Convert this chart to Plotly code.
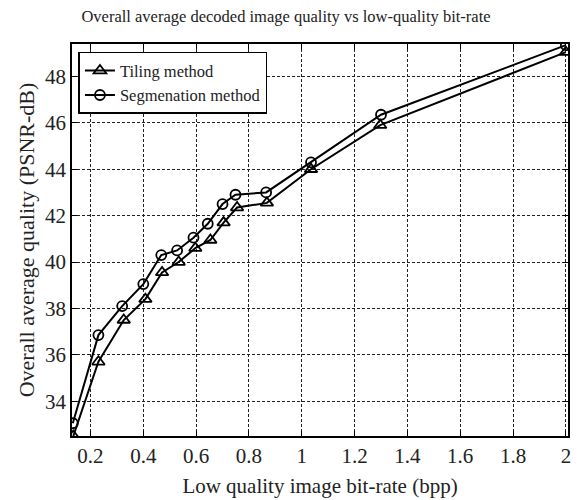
import plotly.graph_objects as go

tiling_x = [0.135, 0.23, 0.326, 0.408, 0.471, 0.534, 0.597, 0.654, 0.704, 0.755, 0.868, 1.035, 1.297, 2.0]
tiling_y = [32.5, 35.7, 37.5, 38.4, 39.55, 40.0, 40.6, 40.95, 41.7, 42.35, 42.55, 44.0, 45.9, 49.05]
seg_x = [0.133, 0.23, 0.32, 0.40, 0.468, 0.528, 0.59, 0.644, 0.70, 0.749, 0.865, 1.035, 1.30, 2.0]
seg_y = [33.05, 36.85, 38.1, 39.05, 40.3, 40.5, 41.05, 41.65, 42.5, 42.9, 43.0, 44.3, 46.35, 49.35]

x_ticks = [0.2, 0.4, 0.6, 0.8, 1, 1.2, 1.4, 1.6, 1.8, 2]
x_ticklabels = ["0.2", "0.4", "0.6", "0.8", "1", "1.2", "1.4", "1.6", "1.8", "2"]
y_ticks = [34, 36, 38, 40, 42, 44, 46, 48]

font = "Liberation Serif, Times New Roman, serif"

fig = go.Figure()
fig.add_trace(go.Scatter(
    x=tiling_x, y=tiling_y, name="Tiling method", mode="lines+markers",
    line=dict(color="black", width=2),
    marker=dict(symbol="triangle-up-open", size=11, color="black", line=dict(width=1.8, color="black")),
))
fig.add_trace(go.Scatter(
    x=seg_x, y=seg_y, name="Segmenation method", mode="lines+markers",
    line=dict(color="black", width=2),
    marker=dict(symbol="circle-open", size=10, color="black", line=dict(width=1.8, color="black")),
))

axis_common = dict(
    showline=True, linecolor="black", linewidth=1.5, mirror="allticks",
    ticks="inside", ticklen=5, tickcolor="black", tickwidth=1,
    showgrid=True, gridcolor="#222", griddash="3px,2px", gridwidth=1,
    zeroline=False, automargin=False,
    tickfont=dict(family=font, size=21, color="#222"),
)

fig.update_layout(
    width=582, height=500,
    margin=dict(l=72, r=14, t=44, b=64),
    paper_bgcolor="white", plot_bgcolor="white",
    title=dict(text="Overall average decoded image quality vs low-quality bit-rate",
               x=0.4914, xref="container", xanchor="center", y=0.98, yref="container",
               font=dict(family=font, size=16.5, color="#222")),
    xaxis=dict(range=[0.13, 2.008], tickvals=x_ticks, ticktext=x_ticklabels,
               title=dict(text="Low quality image bit-rate (bpp)", standoff=11,
                          font=dict(family=font, size=21, color="#222")), **axis_common),
    yaxis=dict(range=[32.5, 49.4], tickvals=y_ticks,
               title=dict(text="Overall average quality (PSNR-dB)", standoff=4,
                          font=dict(family=font, size=22, color="#222")), **axis_common),
    legend=dict(x=0.013, y=0.98, xanchor="left", yanchor="top",
                bgcolor="white", bordercolor="black", borderwidth=1.5,
                font=dict(family=font, size=16.5, color="#222"),
                tracegroupgap=0, itemwidth=30),
    showlegend=True,
)

fig.write_html("out.html", config={"displayModeBar": False},
               post_script="document.body.style.margin='0px';")
